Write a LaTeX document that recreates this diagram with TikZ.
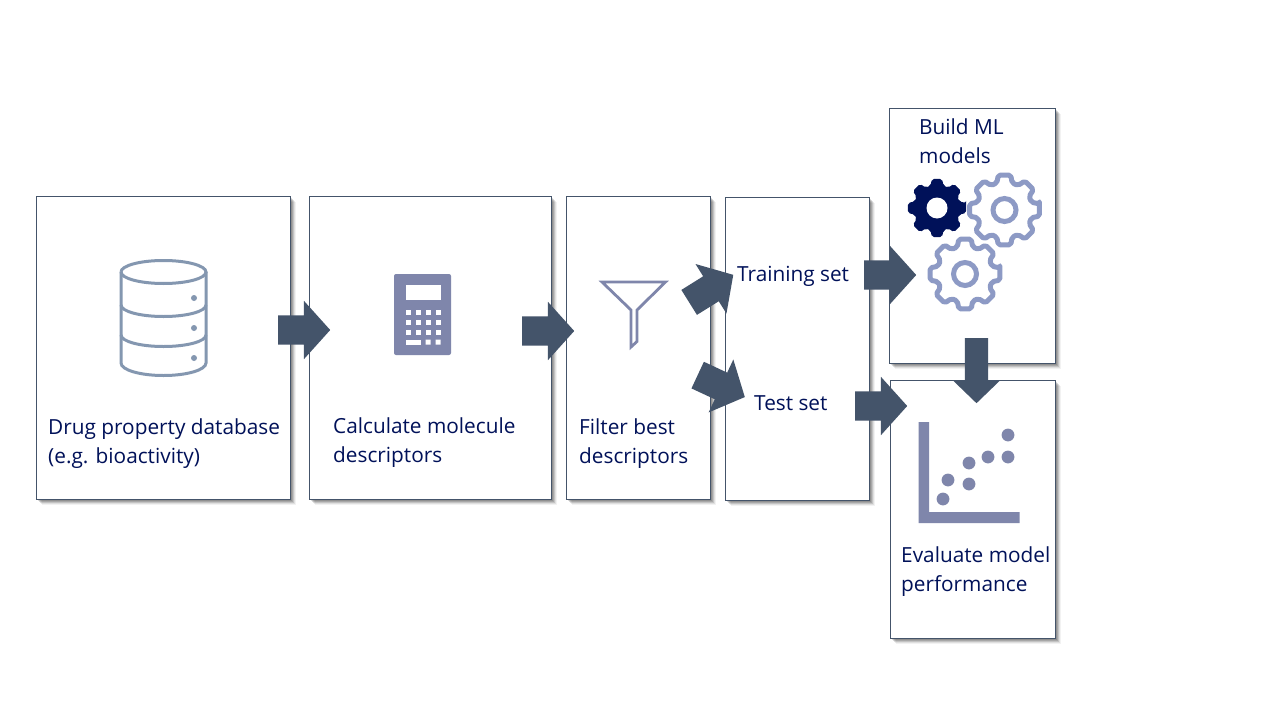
\documentclass[tikz,border=0pt]{standalone}
\usepackage{fontspec}
\setmainfont{Open Sans}
\usetikzlibrary{shapes.arrows,shadows}
\definecolor{edge}{HTML}{44546A}
\definecolor{ink}{HTML}{001159}
\definecolor{navy}{HTML}{001159}
\definecolor{iconc}{HTML}{7F86AB}
\definecolor{gearc}{HTML}{8D9AC5}
\definecolor{dbc}{HTML}{8497B0}
\tikzset{
  x=1pt,y=-1pt,
  panel/.style={draw=edge,line width=0.9pt,fill=white,
    general shadow={fill=black,opacity=.14,shadow xshift=1.5pt,shadow yshift=-1.5pt},
    general shadow={fill=black,opacity=.14,shadow xshift=2.5pt,shadow yshift=-2.5pt},
    general shadow={fill=black,opacity=.12,shadow xshift=3.5pt,shadow yshift=-3.5pt},
    general shadow={fill=black,opacity=.08,shadow xshift=4.5pt,shadow yshift=-4.5pt},
    general shadow={fill=black,opacity=.05,shadow xshift=5.5pt,shadow yshift=-5.5pt}},
  label/.style={anchor=base west,inner sep=0,align=left,text=ink,font=\fontsize{20.8}{28.8}\selectfont},
  blockarrow/.style={single arrow,fill=edge,draw=none,inner sep=0,anchor=tail,
    minimum height=52pt,single arrow head extend=14.5pt,single arrow head indent=0pt,single arrow tip angle=96},
  gearline/.style={draw=gearc,line width=5pt,fill=white,rounded corners=2pt,line join=round},
}
\newcommand{\panelbox}[5]{\node[panel,inner sep=0,anchor=north west,minimum width=#4pt-#2pt+.6pt,minimum height=#5pt-#3pt] (#1) at (#2-.6,#3) {};}
\newcommand{\gearoutline}[1]{(-10:#1) \foreach \a in {0,45,...,315}{ -- (\a-10:#1) -- (\a+10:#1) -- (\a+16:#1*.79) -- (\a+29:#1*.79)} -- cycle}
\newcommand{\shaft}[1]{\rule{0pt}{#1}}
\begin{document}
\begin{tikzpicture}
\useasboundingbox (0,0) rectangle (1280,720);
\fill[white] (0,0) rectangle (1280,720);
\panelbox{db}{37}{196}{290}{499}
\panelbox{calc}{310}{196}{551}{499}
\panelbox{filt}{567}{196}{710}{499}
\panelbox{split}{726}{197}{869}{500}
\panelbox{build}{890}{108}{1055}{363}
\panelbox{eval}{891}{380}{1055}{638}
% database icon
\begin{scope}[draw=dbc,line width=3pt]
\draw (121,272) arc[start angle=180,end angle=-180,x radius=42.5,y radius=-11.5];
\draw (121,272) -- (121,363) arc[start angle=180,end angle=360,x radius=42.5,y radius=-12.5] -- (206,272);
\draw (121,305) arc[start angle=180,end angle=360,x radius=42.5,y radius=-11.5];
\draw (121,335) arc[start angle=180,end angle=360,x radius=42.5,y radius=-11.5];
\end{scope}
\fill[dbc] (194,298) circle[radius=3] (194,328) circle[radius=3] (194,358) circle[radius=3];
% calculator icon
\fill[iconc,rounded corners=2pt] (394,274) rectangle (451,355);
\fill[white] (406,285) rectangle (441,300);
\foreach \yy in {312,322,332}{\foreach \xx in {408,418,428,438}{\fill[white] (\xx-2.5,\yy-2.5) rectangle (\xx+2.5,\yy+2.5);}}
\fill[white] (405.5,339.5) rectangle (420.5,344.5);
\fill[white] (425.5,339.5) rectangle (430.5,344.5) (435.5,339.5) rectangle (440.5,344.5);
% funnel icon
\draw[iconc,line width=2.8pt,line join=miter] (602,282) -- (665.5,282) -- (637,310) -- (637,341.5) -- (631,347) -- (631,310) -- cycle;
% gears
\begin{scope}[shift={(937,208)}]
\fill[navy,rounded corners=2pt] \gearoutline{29.5};
\fill[white] (0,0) circle[radius=10.5];
\end{scope}
\begin{scope}[shift={(1004.5,210)}]
\draw[gearline] \gearoutline{35.5};
\draw[gearc,line width=5pt] (0,0) circle[radius=11.5];
\end{scope}
\begin{scope}[shift={(965,274)}]
\draw[gearline] \gearoutline{35.5};
\draw[gearc,line width=5pt] (0,0) circle[radius=11.5];
\end{scope}
% chart icon
\fill[iconc] (918.5,422) -- (929,422) -- (929,512) -- (1019.5,512) -- (1019.5,523) -- (918.5,523) -- cycle;
\foreach \xx/\yy in {1008/435,1008/457,988/457,969/463,969/484,948/480,943/499}{\fill[iconc] (\xx,\yy) circle[radius=6.4];}
% labels
\node[label] (tdb) at (48,463) {Drug property database\\(e.g. bioactivity)};
\node[label] (tcalc) at (333,462) {Calculate molecule\\descriptors};
\node[label] (tfilt) at (579,463) {Filter best\\descriptors};
\node[label] (ttrain) at (737,281) {Training set};
\node[label] (ttest) at (754,410.5) {Test set};
\node[label] (tbuild) at (919,163) {Build ML\\models};
\node[label] (teval) at (901,591) {Evaluate model\\performance};
% block arrows
\node[blockarrow] (a1) at (278,330) {\shaft{29pt}};
\node[blockarrow] (a2) at (522,331) {\shaft{29pt}};
\node[blockarrow,rotate=32] (a3) at (689,302.5) {\shaft{29pt}};
\node[blockarrow,rotate=-25] (a4) at (697.5,375) {\shaft{29pt}};
\node[blockarrow] (a5) at (864,275) {\shaft{29pt}};
\node[blockarrow] (a6) at (855,406) {\shaft{29pt}};
\node[blockarrow,rotate=-90,minimum height=65pt,single arrow head extend=11.5pt,single arrow tip angle=92] (a7) at (976.5,338) {\shaft{23pt}};
\end{tikzpicture}
\end{document}
